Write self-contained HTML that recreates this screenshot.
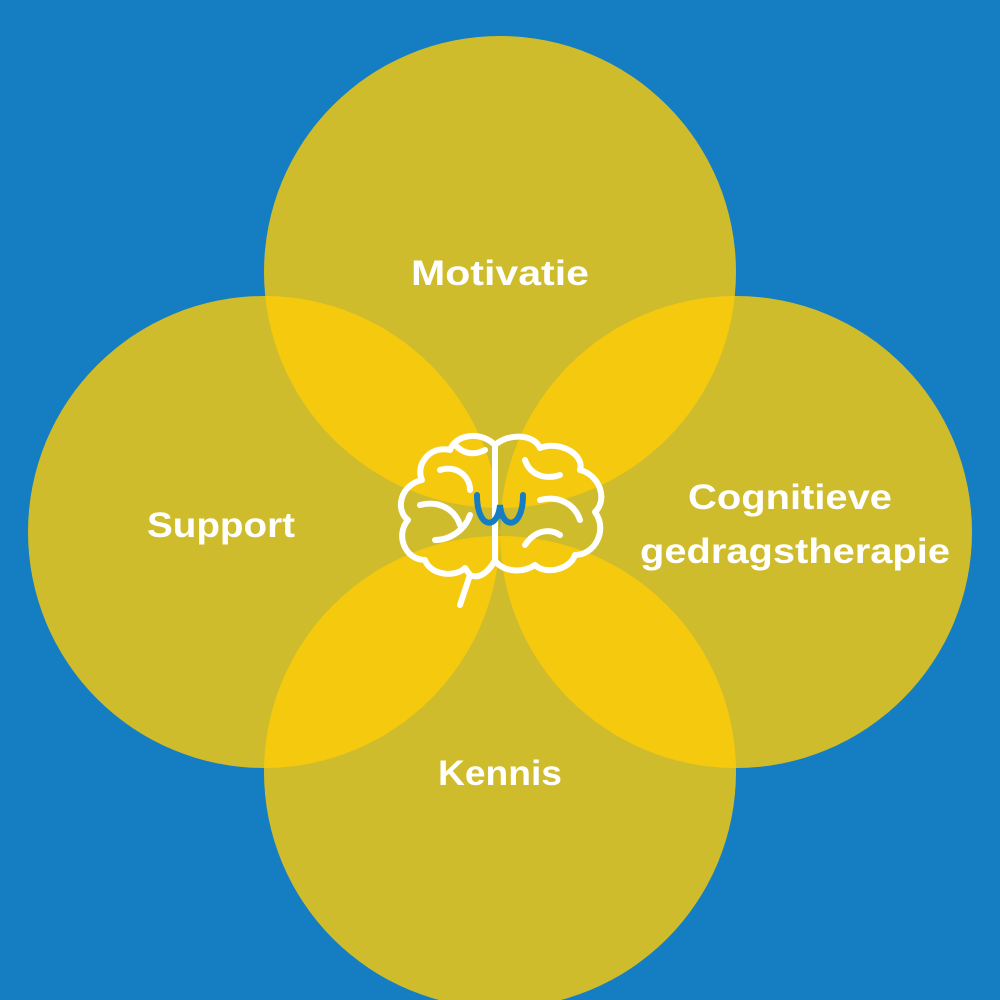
<!DOCTYPE html>
<html><head><style>
html,body{margin:0;padding:0;background:#157dc2;}
svg{display:block}
text{font-family:"Liberation Sans",sans-serif;font-weight:bold;fill:#fff;text-anchor:middle}
</style></head><body>
<svg width="1000" height="1000" viewBox="0 0 1000 1000">
<defs>
<clipPath id="ct"><circle cx="500" cy="272" r="236"/></clipPath>
<clipPath id="cb"><circle cx="500" cy="772" r="236"/></clipPath>
</defs>
<rect width="1000" height="1000" fill="#157dc2"/>
<g fill="#cfbc2c">
<circle cx="500" cy="272" r="236"/>
<circle cx="264" cy="532" r="236"/>
<circle cx="736" cy="532" r="236"/>
<circle cx="500" cy="772" r="236"/>
</g>
<g fill="#f5c90e">
<circle cx="264" cy="532" r="236" clip-path="url(#ct)"/>
<circle cx="736" cy="532" r="236" clip-path="url(#ct)"/>
<circle cx="264" cy="532" r="236" clip-path="url(#cb)"/>
<circle cx="736" cy="532" r="236" clip-path="url(#cb)"/>
</g>
<text x="500" y="285" font-size="35" textLength="178" lengthAdjust="spacingAndGlyphs">Motivatie</text>
<text x="221" y="537" font-size="35" textLength="148" lengthAdjust="spacingAndGlyphs">Support</text>
<text x="790" y="509" font-size="35" textLength="204" lengthAdjust="spacingAndGlyphs">Cognitieve</text>
<text x="795" y="563" font-size="35" textLength="310" lengthAdjust="spacingAndGlyphs">gedragstherapie</text>
<text x="500" y="785" font-size="35" textLength="124" lengthAdjust="spacingAndGlyphs">Kennis</text>
<g fill="none" stroke="#fff" stroke-width="6" stroke-linecap="round" stroke-linejoin="round">
<path d="M495 445 C480 430 455 435 450 450 C430 445 415 465 422 480 C400 485 395 510 408 520 C395 535 405 560 425 560 C430 575 455 578 465 568 L470 575 L460 605"/>
<path d="M495 445 C510 432 535 435 540 448 C560 440 585 455 580 470 C600 475 608 500 595 512 C608 530 595 555 575 555 C570 570 545 575 535 565 C520 575 500 570 495 560"/>
<path d="M495 445 L495 560"/>
<path d="M470 575 C480 580 490 570 495 560"/>
<path d="M440 470 C455 465 470 475 470 490"/>
<path d="M420 505 C440 500 455 510 460 525"/>
<path d="M435 540 C450 540 465 530 470 515"/>
<path d="M525 460 C530 475 545 480 560 475"/>
<path d="M540 500 C560 495 575 505 580 520"/>
<path d="M525 545 C535 530 550 528 560 535"/>
<path d="M455 445 C465 455 475 455 485 450"/>
</g>
<path d="M477 495 C477 530 498 530 500 505 C502 530 523 530 523 495" fill="none" stroke="#157dc2" stroke-width="6" stroke-linecap="round"/>
</svg>
</body></html>
